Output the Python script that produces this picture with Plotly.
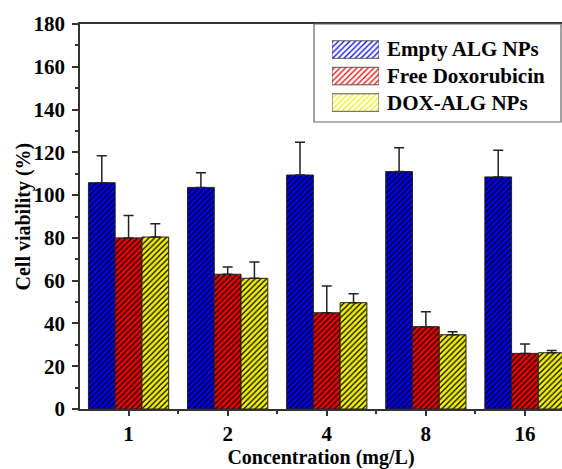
import plotly.graph_objects as go

categories = ["1", "2", "4", "8", "16"]
series_names = ["Empty ALG NPs", "Free Doxorubicin", "DOX-ALG NPs"]
empty_alg = [105.8, 103.6, 109.4, 111.0, 108.5]
empty_alg_err = [12.6, 6.9, 15.3, 11.2, 12.5]
free_dox = [80.0, 63.0, 45.0, 38.5, 26.0]
free_dox_err = [10.5, 3.4, 12.5, 7.0, 4.4]
dox_alg = [80.4, 61.1, 49.7, 34.7, 26.3]
dox_alg_err = [6.2, 7.6, 4.2, 1.4, 1.1]
colors = ["#0000f0", "#f00000", "#f0f000"]

W, H = 562, 469
L, R, T, B = 80, 0, 24, 60
pw, ph = W - L - R, H - T - B

def px_x(x):
    return (x - L) / pw

def px_y(y):
    return (H - B - y) / ph

FONT = "Liberation Serif"
def f(size):
    return dict(family=FONT, size=size, color="black", weight="bold")

xpos = list(range(len(categories)))
PAT = dict(shape="/", fgcolor="black", fillmode="replace", size=4, solidity=0.3)

fig = go.Figure()
for name, vals, errs, col in zip(series_names, [empty_alg, free_dox, dox_alg],
                                 [empty_alg_err, free_dox_err, dox_alg_err], colors):
    fig.add_trace(go.Bar(
        x=xpos, y=vals, name=name, showlegend=False,
        marker=dict(color=col, line=dict(color="#222", width=1),
                    pattern=dict(PAT, bgcolor=col)),
        error_y=dict(type="data", array=errs, arrayminus=[0] * len(errs),
                     symmetric=False, color="#222", thickness=1.5, width=5),
    ))

# legend swatches drawn as bars on an inset axis
fig.add_trace(go.Bar(
    x=[1, 1, 1], y=[0, 1, 2], orientation="h", xaxis="x2", yaxis="y2",
    showlegend=False, width=0.66, hoverinfo="skip",
    marker=dict(color=colors, line=dict(color="#555", width=1),
                pattern=dict(PAT, bgcolor=colors)),
))

row_y = [49.5, 76.3, 102.6]
annotations = []
for name, yy in zip(series_names, row_y):
    annotations.append(dict(x=px_x(385), y=px_y(yy), xref="paper", yref="paper",
                            text=name, showarrow=False, xanchor="left", yanchor="middle",
                            font=f(21)))
annotations.append(dict(x=px_x(23), y=0.5, xref="paper", yref="paper",
                        text="Cell viability (%)", textangle=-90, showarrow=False,
                        xanchor="center", yanchor="middle", font=f(20)))

fig.update_layout(
    width=W, height=H,
    margin=dict(l=L, r=R, t=T, b=B, pad=0),
    plot_bgcolor="white", paper_bgcolor="white",
    barmode="group", bargap=0.19, bargroupgap=0,
    font=f(21),
    xaxis=dict(
        range=[-0.49, (W - R - 129) / 99.0],
        tickmode="array", tickvals=xpos, ticktext=categories,
        showline=True, linecolor="#333", linewidth=1.5, mirror=True,
        ticks="outside", ticklen=5, tickwidth=1.5, tickcolor="#333",
        minor=dict(tickmode="array", tickvals=[0.5, 1.5, 2.5, 3.5, 4.5],
                   ticks="outside", ticklen=3, tickwidth=1.5, tickcolor="#333"),
        showgrid=False, zeroline=False,
        tickfont=f(21),
        title=dict(text="Concentration (mg/L)", standoff=6, font=f(20)),
    ),
    yaxis=dict(
        range=[0, 180], tick0=0, dtick=20,
        showline=True, linecolor="#333", linewidth=1.5,
        ticks="outside", ticklen=6, tickwidth=1.5, tickcolor="#333",
        ticklabelstandoff=3,
        minor=dict(tick0=10, dtick=20, ticks="outside", ticklen=3,
                   tickwidth=1.5, tickcolor="#333"),
        showgrid=False, zeroline=False,
        tickfont=f(21),
    ),
    xaxis2=dict(domain=[px_x(332), px_x(379)], range=[0, 1], anchor="y2",
                visible=False, fixedrange=True),
    yaxis2=dict(domain=[px_y(102.6 + 13.2), px_y(49.5 - 13.2)], range=[2.5, -0.5],
                anchor="x2", visible=False, fixedrange=True),
    shapes=[dict(type="rect", xref="paper", yref="paper",
                 x0=px_x(314), x1=px_x(561), y0=px_y(122), y1=px_y(24),
                 line=dict(color="#666", width=1.2), fillcolor="rgba(0,0,0,0)")],
    annotations=annotations,
)

fig.write_html("out.html")
